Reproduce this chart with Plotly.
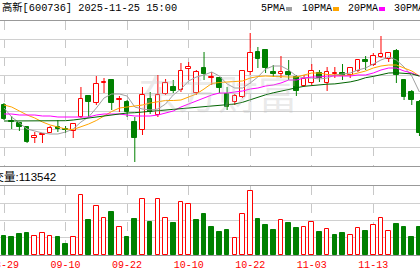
import plotly.graph_objects as go

# ---------------- data ----------------
dates = ["08-29", "09-01", "09-02", "09-03", "09-04", "09-05", "09-08", "09-09", "09-10", "09-11",
         "09-12", "09-15", "09-16", "09-17", "09-18", "09-19", "09-22", "09-23", "09-24", "09-25",
         "09-26", "09-29", "09-30", "10-09", "10-10", "10-13", "10-14", "10-15", "10-16", "10-17",
         "10-20", "10-21", "10-22", "10-23", "10-24", "10-27", "10-28", "10-29", "10-30", "10-31",
         "11-03", "11-04", "11-05", "11-06", "11-07", "11-10", "11-11", "11-12", "11-13", "11-14",
         "11-17", "11-18", "11-19", "11-20", "11-21"]

opens = [6.11, 5.95, 5.93, 5.89, 5.78, 5.81, 5.83, 5.89, 5.87, 5.85,
         5.99, 6.20, 6.13, 6.33, 6.36, 6.16, 6.14, 5.94, 5.86, 6.17,
         6.01, 6.22, 6.29, 6.26, 6.47, 6.23, 6.48, 6.38, 6.38, 6.22,
         6.14, 6.19, 6.44, 6.64, 6.66, 6.44, 6.42, 6.44, 6.39, 6.30,
         6.33, 6.43, 6.33, 6.42, 6.43, 6.41, 6.45, 6.56, 6.51, 6.59,
         6.57, 6.65, 6.36, 6.24, 6.14]
highs = [6.13, 6.00, 5.94, 5.89, 5.84, 5.83, 5.90, 5.96, 5.90, 5.93,
         6.29, 6.20, 6.40, 6.38, 6.36, 6.20, 6.16, 5.99, 6.29, 6.24,
         6.41, 6.37, 6.36, 6.53, 6.54, 6.46, 6.64, 6.44, 6.39, 6.29,
         6.22, 6.46, 6.83, 6.69, 6.66, 6.51, 6.60, 6.56, 6.41, 6.41,
         6.52, 6.46, 6.49, 6.49, 6.52, 6.49, 6.57, 6.60, 6.63, 6.80,
         6.63, 6.67, 6.37, 6.26, 6.16]
lows = [5.96, 5.87, 5.85, 5.73, 5.73, 5.73, 5.83, 5.84, 5.83, 5.78,
        5.98, 5.99, 6.11, 6.23, 6.06, 6.04, 5.99, 5.54, 5.81, 6.02,
        5.99, 6.21, 6.23, 6.24, 6.36, 6.21, 6.36, 6.31, 6.23, 6.06,
        6.11, 6.18, 6.41, 6.48, 6.43, 6.39, 6.38, 6.36, 6.20, 6.29,
        6.31, 6.34, 6.25, 6.38, 6.36, 6.38, 6.44, 6.46, 6.50, 6.58,
        6.54, 6.33, 6.16, 6.11, 5.80]
closes = [5.97, 5.94, 5.89, 5.74, 5.80, 5.82, 5.88, 5.87, 5.86, 5.92,
          6.17, 6.14, 6.32, 6.34, 6.13, 6.17, 6.04, 5.78, 6.21, 6.04,
          6.21, 6.33, 6.25, 6.45, 6.49, 6.44, 6.42, 6.39, 6.28, 6.09,
          6.20, 6.45, 6.63, 6.57, 6.48, 6.42, 6.44, 6.41, 6.25, 6.37,
          6.45, 6.38, 6.44, 6.43, 6.40, 6.48, 6.56, 6.54, 6.60, 6.62,
          6.63, 6.41, 6.19, 6.16, 5.83]
volumes = [77200, 73200, 85200, 89200, 76000, 88000, 76000, 73200, 45200, 72000,
           240000, 141200, 196000, 148000, 173200, 112000, 73200, 145200, 224000, 133200,
           224000, 148000, 129200, 212000, 204000, 141200, 162400, 113200, 90800, 101200,
           68000, 165200, 256000, 145200, 121200, 101200, 140000, 129200, 109200, 112000,
           132000, 93200, 104000, 81200, 89200, 80000, 108000, 97200, 120000, 148000,
           96000, 125200, 113200, 73200, 113200]

ma5 = [6.08, 5.99, 5.93, 5.87, 5.85, 5.83, 5.82, 5.82, 5.84, 5.87,
       5.94, 5.99, 6.08, 6.18, 6.22, 6.22, 6.20, 6.09, 6.07, 6.06,
       6.07, 6.12, 6.21, 6.27, 6.35, 6.39, 6.41, 6.44, 6.40, 6.32,
       6.28, 6.28, 6.33, 6.39, 6.47, 6.50, 6.50, 6.46, 6.40, 6.38,
       6.38, 6.37, 6.38, 6.41, 6.42, 6.43, 6.46, 6.48, 6.52, 6.56,
       6.59, 6.56, 6.49, 6.40, 6.24]
ma10 = [6.11, 6.09, 6.05, 6.01, 5.98, 5.94, 5.91, 5.89, 5.87, 5.865,
        5.89, 5.92, 5.955, 6.00, 6.045, 6.08, 6.09, 6.10, 6.11, 6.13,
        6.14, 6.155, 6.155, 6.16, 6.19, 6.22, 6.27, 6.325, 6.335, 6.34,
        6.34, 6.35, 6.38, 6.395, 6.40, 6.395, 6.39, 6.39, 6.39, 6.41,
        6.43, 6.43, 6.415, 6.41, 6.405, 6.41, 6.43, 6.45, 6.48, 6.50,
        6.51, 6.51, 6.48, 6.45, 6.40]
ma20 = [6.02, 6.02, 6.01, 6.01, 6.01, 6.00, 6.00, 5.99, 5.99, 5.99,
        5.99, 5.99, 6.01, 6.02, 6.02, 6.02, 6.01, 6.00, 6.00, 6.00,
        6.01, 6.03, 6.05, 6.09, 6.12, 6.15, 6.18, 6.21, 6.23, 6.23,
        6.24, 6.25, 6.27, 6.28, 6.30, 6.31, 6.33, 6.36, 6.36, 6.38,
        6.39, 6.39, 6.40, 6.40, 6.40, 6.40, 6.41, 6.41, 6.43, 6.46,
        6.48, 6.48, 6.45, 6.43, 6.40]
ma30 = [5.95, 5.95, 5.95, 5.95, 5.95, 5.95, 5.95, 5.95, 5.953, 5.96,
        5.97, 5.98, 5.99, 6.005, 6.015, 6.022, 6.03, 6.033, 6.04, 6.045,
        6.055, 6.06, 6.067, 6.075, 6.082, 6.09, 6.097, 6.102, 6.108, 6.113,
        6.12, 6.137, 6.162, 6.19, 6.212, 6.232, 6.251, 6.269, 6.282, 6.297,
        6.306, 6.314, 6.318, 6.321, 6.33, 6.341, 6.358, 6.383, 6.396, 6.416,
        6.43, 6.432, 6.43, 6.421, 6.399]

tick_labels = ["08-29", "09-10", "09-22", "10-10", "10-22", "11-03", "11-13"]
title_text = "高新[600736] 2025-11-25 15:00"
vol_text = "成交量:113542"
legend_names = ["5PMA", "10PMA", "20PMA", "30PMA"]

# ---------------- styles ----------------
RED = "#ff0000"
GREEN = "#008000"
MA_COLORS = ["#a0a0a0", "#ffa500", "#ff00ff", "#006400"]
MONO = "Liberation Mono, Noto Sans CJK SC, monospace"

n = len(dates)
xs = list(range(n))

# candle direction
cand_up = []
for i in range(n):
    if closes[i] != opens[i]:
        cand_up.append(closes[i] > opens[i])
    else:
        cand_up.append(closes[i] >= (closes[i - 1] if i else opens[i]))
# volume direction (vs previous close)
vol_up = [closes[i] > (closes[i - 1] if i else opens[i]) for i in range(n)]

fig = go.Figure()

# wicks
for up, col in [(True, RED), (False, GREEN)]:
    wx, wy = [], []
    for i in range(n):
        if cand_up[i] != up:
            continue
        top = max(opens[i], closes[i])
        bot = min(opens[i], closes[i])
        wx += [i, i, None, i, i, None]
        wy += [highs[i], top, None, bot, lows[i], None]
    fig.add_trace(go.Scatter(x=wx, y=wy, mode="lines", line=dict(color=col, width=1),
                             hoverinfo="skip", showlegend=False, xaxis="x", yaxis="y"))

# bodies
fig.add_trace(go.Bar(
    x=xs,
    y=[max(abs(closes[i] - opens[i]), 0.008) for i in range(n)],
    base=[min(opens[i], closes[i]) for i in range(n)],
    width=0.6,
    marker=dict(color=["#ffffff" if u else GREEN for u in cand_up],
                line=dict(color=[RED if u else GREEN for u in cand_up], width=1)),
    showlegend=False, xaxis="x", yaxis="y"))

# moving averages
for vals, col in zip([ma5, ma10, ma20, ma30], MA_COLORS):
    fig.add_trace(go.Scatter(x=xs, y=vals, mode="lines", line=dict(color=col, width=1),
                             showlegend=False, xaxis="x", yaxis="y"))

# volume
fig.add_trace(go.Bar(
    x=xs, y=volumes, width=0.6,
    marker=dict(color=["#ffffff" if u else GREEN for u in vol_up],
                line=dict(color=[RED if u else GREEN for u in vol_up], width=1)),
    showlegend=False, xaxis="x2", yaxis="y2"))

tickvals = [dates.index(t) for t in tick_labels]
xr = [-0.52, 54.07]

common_x = dict(range=xr, tickvals=tickvals, ticktext=tick_labels, showgrid=True,
                gridcolor="#c8c8c8", griddash="dash", gridwidth=1, showline=True,
                linecolor="#999999", linewidth=1, mirror=True, ticks="", zeroline=False,
                fixedrange=True, automargin=False)

H_TOP, H_BOT = 21, 255
ph = H_BOT - H_TOP


def py(px):
    return (H_BOT - px) / ph


fig.update_layout(
    width=420, height=276,
    margin=dict(l=0, r=0, t=H_TOP, b=276 - H_BOT, pad=0),
    paper_bgcolor="white", plot_bgcolor="white",
    barmode="overlay", bargap=0,
    xaxis=dict(**common_x, anchor="y", showticklabels=False, domain=[0, 1]),
    xaxis2=dict(**common_x, anchor="y2", matches="x", showticklabels=True,
                tickfont=dict(family=MONO, size=10, color=RED), ticklabeloverflow="allow"),
    yaxis=dict(domain=[py(166), 1], range=[5.50, 6.95], tick0=5.50, dtick=0.18125,
               showgrid=True, gridcolor="#d0d0d0", showticklabels=False, zeroline=False,
               ticks="", fixedrange=True, automargin=False),
    yaxis2=dict(domain=[0, py(186)], range=[0, 276000], tick0=0, dtick=69000,
                showgrid=True, gridcolor="#d0d0d0", showticklabels=False, zeroline=False,
                ticks="", fixedrange=True, automargin=False),
    showlegend=False,
)

ann = []
# watermark
ann.append(dict(text="东方财富", xref="paper", yref="paper", x=218 / 420, y=py(92),
                xanchor="center", yanchor="middle", showarrow=False,
                font=dict(family="Noto Sans CJK SC", size=40, color="rgba(190,190,190,0.33)")))
# title
ann.append(dict(text=title_text, xref="paper", yref="paper", x=0, y=py(8),
                xanchor="left", yanchor="middle", showarrow=False,
                font=dict(family=MONO, size=10.3, color="#000000")))
# volume label (left part cut off by the edge, as in the source)
ann.append(dict(text=vol_text, xref="paper", yref="paper", x=58 / 420, y=py(176),
                xanchor="right", yanchor="middle", showarrow=False,
                font=dict(family="Liberation Sans, Noto Sans CJK SC", size=11.5, color="#000000")))
# legend
leg_x = [259, 300, 346, 392]
shapes = []
for name, lx in zip(legend_names, leg_x):
    ann.append(dict(text=name, xref="paper", yref="paper", x=lx / 420, y=py(9),
                    xanchor="left", yanchor="middle", showarrow=False,
                    font=dict(family=MONO, size=10, color="#000000")))
for name, lx, col in zip(legend_names[:3], leg_x[:3], MA_COLORS[:3]):
    sx = lx + len(name) * 6 + 3
    shapes.append(dict(type="rect", xref="paper", yref="paper",
                       x0=sx / 420, x1=(sx + 6) / 420, y0=py(11), y1=py(7),
                       fillcolor=col, line=dict(width=0)))
fig.update_layout(annotations=ann, shapes=shapes)

fig.write_html("out.html")
